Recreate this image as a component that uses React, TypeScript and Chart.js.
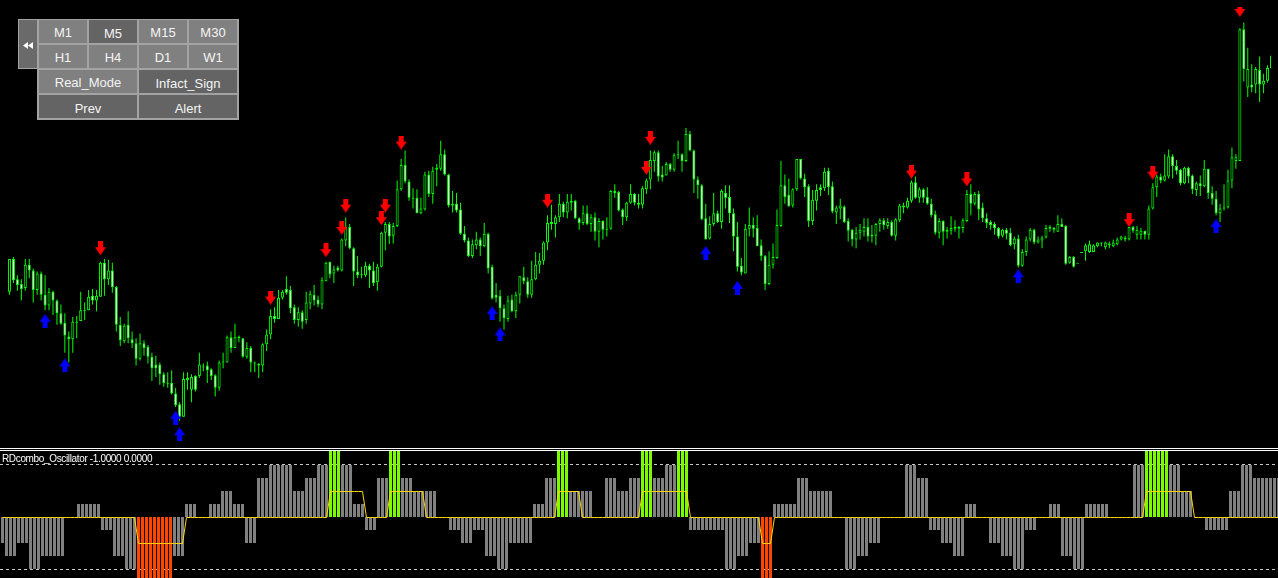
import React, { useEffect, useRef } from 'react';
import { Chart, registerables } from 'chart.js';

Chart.register(...registerables);

// ---- price data (one candle per bar, 320 bars) ----
const opens = [
  156,190,169,164,160,184,178,158,175,153,
  142,156,147,134,124,110,107,125,126,137,
  137,152,147,151,186,169,178,161,122,105,
  122,107,103,87,103,99,89,81,81,71,
  62,62,51,40,27,67,55,69,69,79,
  80,76,70,57,84,83,109,98,110,108,
  89,98,83,82,80,102,112,131,128,150,
  159,158,140,127,135,127,144,153,148,143,
  167,187,175,181,178,209,223,201,177,174,
  173,183,178,166,182,217,226,214,224,262,
  287,270,253,253,237,241,277,257,284,283,
  298,277,247,247,241,216,209,193,204,210,
  203,216,182,153,152,139,128,148,136,153,
  171,167,153,169,184,188,207,228,226,233,
  247,238,250,250,232,227,237,226,233,218,
  229,221,221,260,259,241,233,248,257,248,
  246,262,272,291,300,277,276,288,282,298,
  298,291,319,302,272,266,232,211,226,237,
  228,258,254,237,213,183,175,221,225,222,
  204,193,164,184,191,224,266,256,245,262,
  293,273,265,229,250,264,263,281,265,238,
  242,244,229,220,210,217,218,223,213,214,
  226,230,224,228,214,230,245,243,250,269,
  253,262,254,247,236,217,229,220,219,223,
  223,222,229,257,247,257,243,232,228,226,
  222,214,220,217,205,211,183,197,210,220,
  207,209,212,223,222,218,226,224,186,192,
  185,196,198,197,197,203,206,202,206,203,
  205,210,212,210,223,215,215,219,215,242,
  264,275,271,275,296,286,282,268,284,276,
  261,268,265,283,258,252,237,243,243,271,
  291,291,427,367,370,370,385,370,374,387,
];
const highs = [
  190,192,173,169,190,190,180,177,177,173,
  160,157,148,143,134,115,130,131,156,145,
  158,159,158,187,190,189,186,162,130,123,
  136,115,108,113,106,101,93,90,83,73,
  73,75,57,42,73,73,71,70,93,82,
  84,77,71,85,93,111,115,123,111,108,
  104,100,84,82,103,117,138,140,158,158,
  172,162,143,140,137,156,157,163,152,171,
  187,187,183,183,211,233,226,202,193,182,
  187,185,187,185,218,228,228,227,271,293,
  302,272,263,262,253,280,281,285,288,312,
  303,278,260,258,248,224,212,210,218,212,
  227,217,184,165,158,143,152,153,156,172,
  182,171,188,197,196,208,235,246,235,257,
  249,257,257,251,233,245,245,236,238,232,
  230,233,261,267,260,242,249,267,258,257,
  265,273,302,302,302,286,290,289,299,312,
  299,325,322,303,275,267,247,234,258,240,
  262,266,266,242,228,191,226,243,233,235,
  210,194,198,206,241,291,277,273,263,293,
  293,278,267,261,267,267,284,284,270,245,
  252,245,232,221,223,226,232,232,225,227,
  232,232,232,230,232,247,248,253,271,275,
  264,263,264,252,240,232,230,223,234,230,
  224,232,261,267,259,260,248,237,230,228,
  223,221,222,222,213,215,200,213,222,221,
  213,214,225,225,223,235,232,225,193,193,
  185,196,206,209,205,207,207,208,208,210,
  212,214,214,223,224,224,222,219,245,268,
  277,278,298,303,298,292,283,285,285,277,
  270,276,292,283,265,260,247,267,282,305,
  298,428,434,408,391,388,399,381,390,402,
];
const lows = [
  153,165,157,147,157,170,145,153,147,137,
  137,132,122,122,93,83,93,108,126,127,
  137,143,136,151,152,163,155,115,100,103,
  103,98,80,85,90,82,64,68,60,58,
  57,50,37,23,27,55,42,53,67,74,
  62,65,48,54,77,83,93,98,104,88,
  87,73,73,67,73,95,107,124,128,148,
  153,134,123,120,118,123,138,142,140,138,
  167,170,165,177,177,203,200,162,170,170,
  171,160,162,157,181,199,205,206,223,260,
  268,250,242,237,236,240,254,247,265,281,
  276,243,238,238,215,207,192,191,200,193,
  202,175,148,145,125,117,125,135,129,144,
  164,150,150,168,175,184,199,220,212,228,
  233,232,240,231,220,225,225,218,209,202,
  210,213,220,253,239,225,229,247,245,242,
  242,257,262,280,270,270,276,280,280,293,
  280,290,301,258,252,230,210,210,224,227,
  221,242,227,198,177,173,175,213,212,203,
  188,158,163,180,190,223,247,244,243,260,
  272,254,223,225,240,255,260,256,237,226,
  231,227,208,203,201,210,213,208,207,204,
  218,220,221,213,209,228,237,242,248,252,
  248,248,246,233,215,211,204,211,215,218,
  211,217,228,235,245,230,228,222,220,215,
  211,212,210,203,200,181,182,193,208,205,
  206,201,211,218,217,218,223,184,185,181,
  185,196,188,196,197,202,203,200,201,202,
  204,209,208,209,217,210,210,210,210,241,
  254,268,270,273,273,277,266,267,268,257,
  255,255,264,252,246,235,228,240,242,263,
  283,291,373,357,362,361,352,361,372,386,
];
const closes = [
  190,168,163,159,184,178,158,175,153,142,
  156,147,134,123,111,107,125,124,137,136,
  151,147,152,186,169,178,161,122,106,121,
  108,103,87,103,98,89,77,77,71,62,
  61,51,39,27,66,65,68,55,81,78,
  75,69,57,83,83,109,98,109,108,89,
  98,83,82,80,102,112,131,128,150,156,
  155,139,127,135,125,145,154,147,143,168,
  186,174,179,178,210,223,201,177,173,173,
  183,178,165,182,217,226,213,224,262,287,
  270,253,252,237,242,277,257,281,282,298,
  277,245,245,240,216,209,193,205,210,203,
  216,180,149,150,139,129,147,136,153,172,
  167,153,169,184,188,207,227,226,233,247,
  238,249,248,232,227,237,226,233,218,229,
  220,220,260,258,240,233,248,257,248,246,
  263,271,292,300,275,274,288,282,297,297,
  291,319,302,272,266,231,210,226,237,228,
  260,253,237,213,182,176,221,225,221,203,
  193,164,184,192,225,266,254,244,262,293,
  273,264,229,251,261,261,280,264,239,243,
  245,228,219,210,217,220,223,213,215,226,
  230,225,228,214,231,245,243,250,269,253,
  262,253,247,235,217,229,218,218,222,221,
  221,230,257,247,257,241,232,227,225,222,
  213,220,216,204,211,183,197,210,220,207,
  210,212,222,221,220,226,223,185,192,182,
  185,196,204,205,204,207,206,207,204,207,
  210,213,210,223,219,220,219,215,242,264,
  275,271,276,296,286,281,268,284,275,262,
  268,265,283,258,252,237,242,242,271,295,
  295,427,386,386,367,386,370,374,387,400,
];

// ---- signal arrows (bar index, price) ----
const sellArrowBars = [23, 66, 80, 84, 85, 94, 95, 99, 136, 161, 162, 228, 242, 283, 289, 311];
const sellArrowPrices = [201, 150, 199, 222, 245, 232, 245, 310, 250, 284, 315, 280, 272, 230, 279, 447];
const buyArrowBars = [9, 14, 42, 43, 122, 124, 176, 184, 255, 305];
const buyArrowPrices = [126, 80, 26, 9, 134, 112, 196, 160, 172, 224];

// ---- oscillator (RDcombo_Oscillator) ----
const oscValues = [
  -0.5,-0.75,-0.75,-0.75,-0.5,-0.5,-0.5,-1,-1,-1,
  -0.75,-0.75,-0.75,-0.75,-0.75,-0.75,0,0,0,0.25,
  0.25,0.25,0.25,0.25,0.25,-0.25,-0.25,-0.25,-0.75,-0.75,
  -0.75,-1,-1,-1,-1.5,-1.5,-1.5,-1.5,-1.5,-1.5,
  -1.5,-1.5,-1.5,-0.75,-0.75,-0.75,0.25,0.25,0.25,0,
  0,0,0.25,0.25,0.25,0.5,0.5,0.5,0.25,0.25,
  0.25,-0.5,-0.5,-0.5,0.75,0.75,0.75,1,1,1,
  1,1,1,0.5,0.5,0.5,0.75,0.75,0.75,1,
  1,1,1.5,1.5,1.5,1,1,1,0.25,0.25,
  0.25,-0.25,-0.25,-0.25,0.75,0.75,0.75,1.5,1.5,1.5,
  0.75,0.75,0.75,0.5,0.5,0.5,0.5,0.5,0.5,0,
  0,0,-0.25,-0.25,-0.25,-0.5,-0.5,-0.5,-0.25,-0.25,
  -0.25,-0.75,-0.75,-0.75,-1,-1,-1,-0.5,-0.5,-0.5,
  -0.5,-0.5,-0.5,0.25,0.25,0.25,0.75,0.75,0.75,1.5,
  1.5,1.5,0.5,0.5,0.5,0.5,0.5,0.5,0,0,
  0,0.75,0.75,0.75,0.5,0.5,0.5,0.75,0.75,0.75,
  1.5,1.5,1.5,0.75,0.75,0.75,1,1,1,1.5,
  1.5,1.5,-0.25,-0.25,-0.25,-0.25,-0.25,-0.25,-0.25,-0.25,
  -0.25,-1,-1,-1,-0.75,-0.75,-0.75,-0.5,-0.5,-0.5,
  -1.5,-1.5,-1.5,0.25,0.25,0.25,0.25,0.25,0.25,0.75,
  0.75,0.75,0.5,0.5,0.5,0.5,0.5,0.5,0,0,
  0,-1,-1,-1,-0.75,-0.75,-0.75,-0.5,-0.5,-0.5,
  0,0,0,0,0,0,1,1,1,0.75,
  0.75,0.75,-0.25,-0.25,-0.25,-0.5,-0.5,-0.5,-0.75,-0.75,
  -0.75,0.25,0.25,0.25,0,0,0,-0.5,-0.5,-0.5,
  -0.75,-0.75,-0.75,-1,-1,-1,-0.25,-0.25,-0.25,0,
  0,0,0.25,0.25,0.25,-0.75,-0.75,-0.75,-1,-1,
  -1,0.25,0.25,0.25,0.25,0.25,0.25,0,0,0,
  0,0,0,1,1,1,1.5,1.5,1.5,1.5,
  1.5,1.5,1,1,1,0.5,0.5,0.5,0,0,
  0,-0.25,-0.25,-0.25,-0.25,-0.25,-0.25,0.5,0.5,0.5,
  1,1,1,0.75,0.75,0.75,0.75,0.75,0.75,0.75,
];
const signalValues = [
  0,0,0,0,0,0,0,0,0,0,
  0,0,0,0,0,0,0,0,0,0,
  0,0,0,0,0,0,0,0,0,0,
  0,0,0,0,-0.5,-0.5,-0.5,-0.5,-0.5,-0.5,
  -0.5,-0.5,-0.5,-0.5,-0.5,-0.5,0,0,0,0,
  0,0,0,0,0,0,0,0,0,0,
  0,0,0,0,0,0,0,0,0,0,
  0,0,0,0,0,0,0,0,0,0,
  0,0,0.5,0.5,0.5,0.5,0.5,0.5,0.5,0.5,
  0.5,0,0,0,0,0,0,0.5,0.5,0.5,
  0.5,0.5,0.5,0.5,0.5,0.5,0,0,0,0,
  0,0,0,0,0,0,0,0,0,0,
  0,0,0,0,0,0,0,0,0,0,
  0,0,0,0,0,0,0,0,0,0.5,
  0.5,0.5,0.5,0.5,0.5,0,0,0,0,0,
  0,0,0,0,0,0,0,0,0,0,
  0.5,0.5,0.5,0.5,0.5,0.5,0.5,0.5,0.5,0.5,
  0.5,0.5,0,0,0,0,0,0,0,0,
  0,0,0,0,0,0,0,0,0,0,
  -0.5,-0.5,-0.5,0,0,0,0,0,0,0,
  0,0,0,0,0,0,0,0,0,0,
  0,0,0,0,0,0,0,0,0,0,
  0,0,0,0,0,0,0,0,0,0,
  0,0,0,0,0,0,0,0,0,0,
  0,0,0,0,0,0,0,0,0,0,
  0,0,0,0,0,0,0,0,0,0,
  0,0,0,0,0,0,0,0,0,0,
  0,0,0,0,0,0,0,0,0,0,
  0,0,0,0,0,0,0.5,0.5,0.5,0.5,
  0.5,0.5,0.5,0.5,0.5,0.5,0.5,0.5,0,0,
  0,0,0,0,0,0,0,0,0,0,
  0,0,0,0,0,0,0,0,0,0,
];
const oscLevels = [1, -1];
const oscTitle = 'RDcombo_Oscillator -1.0000 0.0000';

// ---- panel buttons ----
const buttonRows = [
  [['M1', false], ['M5', true], ['M15', false], ['M30', false]],
  [['H1', false], ['H4', false], ['D1', false], ['W1', false]],
  [['Real_Mode', false], ['Infact_Sign', true]],
  [['Prev', true], ['Alert', true]],
] as [string, boolean][][];

const W = 1278;
const MAIN_H = 448;
const OSC_TOP = 451;
const OSC_H = 127;
const X_MIN = -0.625;
const X_MAX = X_MIN + W / 4;

function makeArrow(color: string, down: boolean) {
  const c = document.createElement('canvas');
  c.width = 11;
  c.height = 14;
  const g = c.getContext('2d')!;
  g.fillStyle = color;
  const pts = [[3, 0], [8, 0], [8, 6], [11, 6], [5.5, 14], [0, 6], [3, 6]];
  g.beginPath();
  pts.forEach(([x, y], i) => {
    const yy = down ? y : 14 - y;
    if (i === 0) g.moveTo(x, yy);
    else g.lineTo(x, yy);
  });
  g.closePath();
  g.fill();
  return c;
}

const levelPlugin = {
  id: 'oscLevels',
  beforeDatasetsDraw(chart: any) {
    const { ctx, chartArea, scales } = chart;
    ctx.save();
    ctx.strokeStyle = '#c8c8c8';
    ctx.lineWidth = 1;
    ctx.setLineDash([3, 3]);
    oscLevels.forEach((lv) => {
      const y = Math.round(scales.y.getPixelForValue(lv)) + (lv < 0 ? 0.5 : -0.5);
      ctx.beginPath();
      ctx.moveTo(chartArea.left, y);
      ctx.lineTo(chartArea.right, y);
      ctx.stroke();
    });
    ctx.restore();
  },
};

const xScale: any = {
  type: 'linear',
  min: X_MIN,
  max: X_MAX,
  offset: false,
  display: false,
  grid: { offset: false },
};

export default function App() {
  const mainRef = useRef<HTMLCanvasElement>(null);
  const oscRef = useRef<HTMLCanvasElement>(null);

  useEffect(() => {
    document.body.style.margin = '0';
    document.body.style.background = '#000';
    const red = makeArrow('#ff0000', true);
    const blue = makeArrow('#0000ff', false);

    const common: any = {
      animation: false,
      responsive: false,
      devicePixelRatio: 1,
      events: [],
      layout: { padding: 0 },
      plugins: { legend: { display: false }, tooltip: { enabled: false } },
    };

    const main = new Chart(mainRef.current!, {
      type: 'bar',
      data: {
        datasets: [
          {
            type: 'line',
            data: sellArrowBars.map((k, i) => ({ x: k, y: sellArrowPrices[i] })),
            showLine: false,
            pointStyle: red,
            pointRadius: 6,
            order: 0,
          } as any,
          {
            type: 'line',
            data: buyArrowBars.map((k, i) => ({ x: k, y: buyArrowPrices[i] })),
            showLine: false,
            pointStyle: blue,
            pointRadius: 6,
            order: 0,
          } as any,
          {
            type: 'bar',
            data: opens.map((o, i) => ({ x: i, y: [o, closes[i]] })),
            backgroundColor: opens.map((o, i) =>
              closes[i] > o ? '#000000' : closes[i] < o ? '#ffffff' : '#00ff00'
            ),
            borderColor: '#00ff00',
            borderWidth: 1,
            borderSkipped: false,
            barThickness: 3,
            grouped: false,
            minBarLength: 1,
            inflateAmount: 0,
            order: 1,
          } as any,
          {
            type: 'bar',
            data: lows.map((l, i) => ({ x: i, y: [l, highs[i]] })),
            backgroundColor: '#00ff00',
            borderWidth: 0,
            barThickness: 1,
            grouped: false,
            inflateAmount: 0,
            order: 2,
          } as any,
        ],
      },
      options: {
        ...common,
        scales: {
          x: xScale,
          y: { type: 'linear', min: 2, max: 450, display: false },
        },
      },
    });

    const osc = new Chart(oscRef.current!, {
      type: 'bar',
      data: {
        datasets: [
          {
            type: 'line',
            data: signalValues.map((v, i) => ({ x: i, y: v })),
            borderColor: '#ffd700',
            borderWidth: 1,
            pointRadius: 0,
            tension: 0,
            yAxisID: 'ys',
            order: 0,
          } as any,
          {
            type: 'bar',
            data: oscValues.map((v, i) => ({ x: i, y: v })),
            backgroundColor: oscValues.map((v) =>
              v > 1 ? '#7cfc00' : v < -1 ? '#ff4500' : '#808080'
            ),
            borderWidth: 0,
            barThickness: 3,
            grouped: false,
            inflateAmount: 0,
            order: 1,
          } as any,
        ],
      },
      options: {
        ...common,
        scales: {
          x: xScale,
          y: { type: 'linear', min: -61 / 52, max: 66 / 52, display: false },
          ys: { type: 'linear', min: -60.5 / 52, max: 66.5 / 52, display: false },
        },
      },
      plugins: [levelPlugin],
    });

    return () => {
      main.destroy();
      osc.destroy();
    };
  }, []);

  const btnFont = "'Liberation Sans', Arial, sans-serif";
  const colX = [39, 89, 139, 189];
  const rowY = [20, 45, 70, 95];

  return (
    <div
      style={{
        position: 'absolute',
        left: 0,
        top: 0,
        width: W,
        height: 578,
        background: '#000',
        overflow: 'hidden',
      }}
    >
      <canvas
        ref={mainRef}
        width={W}
        height={MAIN_H}
        style={{ position: 'absolute', left: 0, top: 0, width: W, height: MAIN_H }}
      />
      <div style={{ position: 'absolute', left: 0, top: 448, width: W, height: 1, background: '#ffffff' }} />
      <div style={{ position: 'absolute', left: 0, top: 450, width: W, height: 1, background: '#ffffff' }} />
      <canvas
        ref={oscRef}
        width={W}
        height={OSC_H}
        style={{ position: 'absolute', left: 0, top: OSC_TOP, width: W, height: OSC_H }}
      />
      <div
        style={{
          position: 'absolute',
          left: 2,
          top: 453,
          font: `10px ${btnFont}`,
          letterSpacing: '-0.35px',
          color: '#ffffff',
          whiteSpace: 'nowrap',
          lineHeight: '12px',
        }}
      >
        {oscTitle}
      </div>

      {/* collapse button */}
      <div style={{ position: 'absolute', left: 18, top: 19, width: 20, height: 50, background: '#a3a3a3' }} />
      <div style={{ position: 'absolute', left: 19, top: 20, width: 18, height: 48, background: '#6a6a6a' }} />
      <svg style={{ position: 'absolute', left: 23, top: 42 }} width={10} height={7}>
        <polygon points="5,0 5,7 0,3.5" fill="#ffffff" />
        <polygon points="10,0 10,7 5,3.5" fill="#ffffff" />
      </svg>

      {/* button grid */}
      <div style={{ position: 'absolute', left: 37, top: 19, width: 202, height: 101, background: '#a3a3a3' }} />
      {buttonRows.map((row, r) =>
        row.map(([label, dark], c) => {
          const wide = row.length === 2;
          const left = wide ? colX[c * 2] : colX[c];
          const width = wide ? 98 : 48;
          return (
            <div
              key={label}
              style={{
                position: 'absolute',
                left,
                top: rowY[r],
                width,
                height: 23,
                background: dark ? '#646464' : '#808080',
                color: '#f4f4f4',
                font: `13px ${btnFont}`,
                textAlign: 'center',
                lineHeight: '23px',
                paddingTop: dark ? 2 : 1,
                boxSizing: 'border-box',
                whiteSpace: 'nowrap',
              }}
            >
              {label}
            </div>
          );
        })
      )}
    </div>
  );
}
